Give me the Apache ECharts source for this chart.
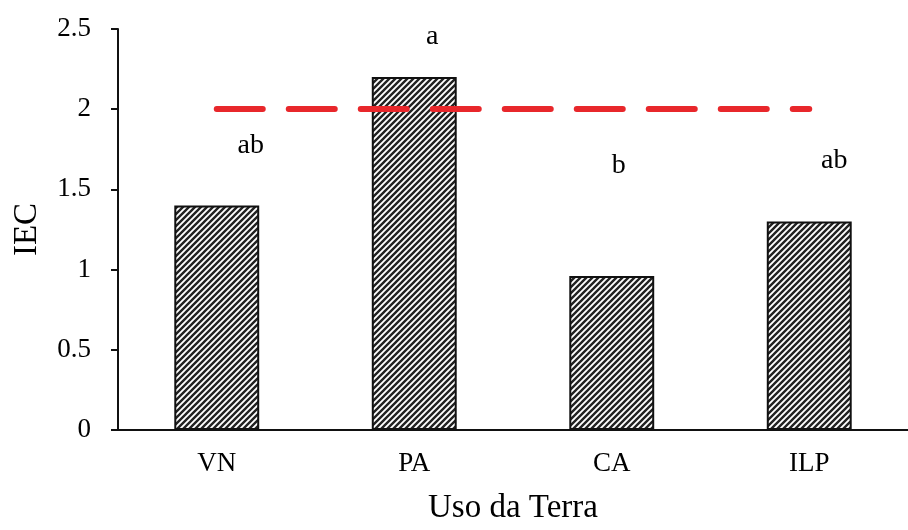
<!DOCTYPE html>
<html>
<head>
<meta charset="utf-8">
<script src="https://cdn.jsdelivr.net/npm/echarts@6/dist/echarts.min.js"></script>
<style>
    html, body { margin: 0; padding: 0; background: #fff; }
    #main { width: 908px; height: 530px; }
</style>
</head>
<body>
<div id="main"></div>
<script>
var categories = ['VN', 'PA', 'CA', 'ILP'];
var iecValues = [1.4, 2.2, 0.96, 1.3];
var letters = ['ab', 'a', 'b', 'ab'];
var letterLevels = [1.77, 2.45, 1.65, 1.68];
var threshold = 2;
var yTicks = [0, 0.5, 1, 1.5, 2, 2.5];

// hatch pattern, "/" stripes
function makeHatch() {
    var s = 6;
    var c = document.createElement('canvas');
    c.width = s;
    c.height = s;
    var ctx = c.getContext('2d');
    ctx.fillStyle = '#fff';
    ctx.fillRect(0, 0, s, s);
    ctx.strokeStyle = '#222';
    ctx.lineWidth = 2.4;
    ctx.beginPath();
    ctx.moveTo(-1, s + 1); ctx.lineTo(s + 1, -1);
    ctx.moveTo(-1, 1); ctx.lineTo(1, -1);
    ctx.moveTo(s - 1, s + 1); ctx.lineTo(s + 1, s - 1);
    ctx.stroke();
    return c;
}

var font = '"Liberation Serif", "Times New Roman", serif';
var chart = echarts.init(document.getElementById('main'));

var option = {
    animation: false,
    grid: { left: 118, top: 29, width: 796, height: 408 },
    xAxis: {
        type: 'category',
        data: categories,
        name: 'Uso da Terra',
        nameLocation: 'middle',
        nameGap: 62,
        nameTextStyle: { fontFamily: font, fontSize: 33, color: '#000' },
        axisLine: { lineStyle: { color: '#111', width: 2 } },
        axisTick: { length: 8, lineStyle: { color: '#111', width: 2 } },
        axisLabel: { margin: 20, fontFamily: font, fontSize: 27, color: '#000' }
    },
    yAxis: {
        type: 'value',
        min: yTicks[0],
        max: yTicks[yTicks.length - 1],
        interval: 0.5,
        name: 'IEC',
        nameLocation: 'middle',
        nameGap: 74,
        nameTextStyle: { fontFamily: font, fontSize: 33, color: '#000' },
        splitLine: { show: false },
        axisLine: { show: true, lineStyle: { color: '#111', width: 2 } },
        axisTick: { show: true, length: 7, lineStyle: { color: '#111', width: 2 } },
        axisLabel: { margin: 27, fontFamily: font, fontSize: 27, color: '#000' }
    },
    series: [{
        type: 'bar',
        data: iecValues,
        barWidth: '43%',
        itemStyle: {
            color: { image: makeHatch(), repeat: 'repeat' },
            borderColor: '#111',
            borderWidth: 2
        },
        markLine: {
            silent: true,
            symbol: 'none',
            label: { show: false },
            lineStyle: { color: '#e8272b', width: 6, type: [46, 26], cap: 'round' },
            data: [[
                { xAxis: categories[0], yAxis: threshold },
                { xAxis: categories[categories.length - 1], yAxis: threshold }
            ]]
        }
    }, {
        type: 'scatter',
        symbolSize: 1,
        itemStyle: { opacity: 1, color: 'rgba(0,0,0,0)' },
        data: letterLevels,
        label: {
            show: true,
            position: 'inside',
            formatter: function(p) { return letters[p.dataIndex]; },
            fontFamily: font,
            fontSize: 28,
            color: '#000'
        }
    }]
};

// letters sit a bit right of the bar centres
var shifts = [34, 18, 7, 25];
option.series[1].data = letterLevels.map(function(v, i) {
    return { value: v, label: { offset: [shifts[i], 0] } };
});

chart.setOption(option);
</script>
</body>
</html>
